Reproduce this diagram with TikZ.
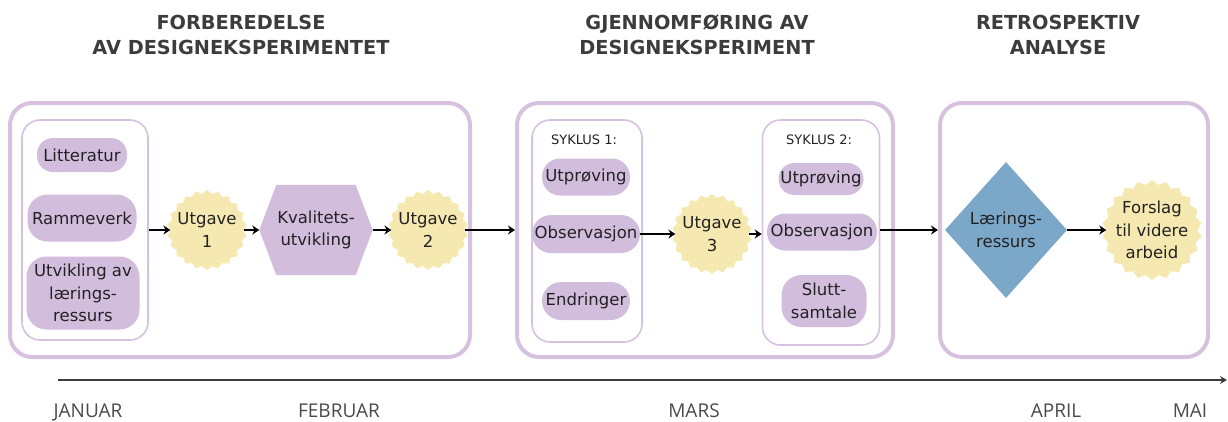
\documentclass[tikz,border=0pt]{standalone}
\usepackage{fontspec}
\setmainfont{DejaVu Sans}
\newfontfamily\monthfont{Open Sans}
\usetikzlibrary{shapes.geometric,shapes.misc,arrows.meta,backgrounds}
\definecolor{lav}{HTML}{D3BDDD}
\definecolor{lavline}{HTML}{D6C2DF}
\definecolor{sun}{HTML}{F6E8B1}
\definecolor{steel}{HTML}{7BA7C9}
\definecolor{txt}{HTML}{222222}
\definecolor{headc}{HTML}{3C3C3C}
\definecolor{monthc}{HTML}{4A4A4A}
\begin{document}
\begin{tikzpicture}[x=1pt,y=-1pt,
  outerbox/.style={draw=lavline, line width=4pt, rounded corners=22pt, inner sep=0pt, minimum height=254pt},
  innerbox/.style={draw=lavline, line width=1.6pt, rounded corners=18pt, inner sep=0pt},
  pill/.style={fill=lav, rounded corners=16pt, inner sep=0pt, align=center, text=txt, font=\fontsize{16.5}{22.5}\selectfont},
  burst/.style={star, star points=22, star point ratio=1.1, fill=sun, draw=none, inner sep=0pt, minimum size=#1},
  burstlabel/.style={font=\fontsize{16.5}{22.5}\selectfont, align=center, text=txt},
  arr/.style={-{Stealth[length=7pt,width=9pt]}, line width=2.5pt, black},
  heading/.style={font=\bfseries\fontsize{19.3}{25}\selectfont, align=center, text=headc},
  month/.style={font=\monthfont\fontsize{19}{21}\selectfont, text=monthc, inner sep=0pt, anchor=base},
  syk/.style={font=\fontsize{13}{15}\selectfont, text=txt},
]
\useasboundingbox (0,0) rectangle (1228,421);

% headings
\node[heading] (h1) at (241,35) {FORBEREDELSE\\AV DESIGNEKSPERIMENTET};
\node[heading] (h2) at (697,35) {GJENNOMFØRING AV\\DESIGNEKSPERIMENT};
\node[heading] (h3) at (1058,35) {RETROSPEKTIV\\ANALYSE};

% outer boxes
\node[outerbox, minimum width=460pt] (box1) at (240,230) {};
\node[outerbox, minimum width=376pt] (box2) at (705,230) {};
\node[outerbox, minimum width=268pt] (box3) at (1074,230) {};

% phase 1
\node[innerbox, minimum width=126pt, minimum height=220pt] (ib1) at (85,230) {};
\node[pill, minimum width=90pt, minimum height=34pt] (lit) at (82,155) {Litteratur};
\node[pill, minimum width=109pt, minimum height=47pt, rounded corners=20pt] (ram) at (82,218) {Rammeverk};
\node[pill, minimum width=113pt, minimum height=73pt, rounded corners=20pt] (utv) at (83,293) {Utvikling av\\lærings-\\ressurs};

\node[burst=80pt, label={[burstlabel]center:Utgave\\1}] (u1) at (207,230) {};
\node[minimum width=113pt, minimum height=90pt, inner sep=0pt, align=center, text=txt, font=\fontsize{16.5}{22.5}\selectfont] (kv) at (316,230) {Kvalitets-\\utvikling};
\begin{scope}[on background layer]
\fill[lav] (kv.west) -- ([xshift=17pt]kv.north west) -- ([xshift=-17pt]kv.north east) -- (kv.east) -- ([xshift=-17pt]kv.south east) -- ([xshift=17pt]kv.south west) -- cycle;
\end{scope}
\node[burst=80pt, label={[burstlabel]center:Utgave\\2}] (u2) at (428,230) {};

% phase 2
\node[innerbox, minimum width=110pt, minimum height=222pt] (s1) at (587,231) {};
\node[syk] (s1t) at (584,140) {SYKLUS 1:};
\node[pill, minimum width=88pt, minimum height=37pt, rounded corners=18pt] (up1) at (586,177) {Utprøving};
\node[pill, minimum width=108pt, minimum height=38pt, rounded corners=19pt] (ob1) at (586,234) {Observasjon};
\node[pill, minimum width=88pt, minimum height=38pt, rounded corners=19pt] (en1) at (586,301) {Endringer};

\node[burst=80pt, label={[burstlabel]center:Utgave\\3}] (u3) at (712,234) {};

\node[innerbox, minimum width=117pt, minimum height=225pt] (s2) at (821,232.5) {};
\node[syk] (s2t) at (819,140) {SYKLUS 2:};
\node[pill, minimum width=85pt, minimum height=32pt] (up2) at (821,179) {Utprøving};
\node[pill, minimum width=110pt, minimum height=37pt, rounded corners=18pt] (ob2) at (822,232) {Observasjon};
\node[pill, minimum width=85pt, minimum height=52pt, rounded corners=20pt] (sl2) at (824,301) {Slutt-\\samtale};

% phase 3
\node[diamond, fill=steel, minimum width=122pt, minimum height=136pt, inner sep=0pt, align=center, text=txt, font=\fontsize{16.5}{22.5}\selectfont] (d) at (1006,230) {Lærings-\\ressurs};
\node[burst=100pt, label={[burstlabel]center:Forslag\\til videre\\arbeid}] (f) at (1152,230) {};

% arrows
\draw[arr] (ib1.east) -- (u1.west);
\draw[arr] (u1.east) -- (kv.west);
\draw[arr] (kv.east) -- (u2.west);
\draw[arr] (u2.east) -- (box2.west);
\draw[arr] (ob1.east) -- (u3.west |- ob1.east);
\draw[arr] (u3.east |- ob1.east) -- (s2.west |- ob1.east);
\draw[arr] (s2.east |- box3.west) -- (box3.west);
\draw[arr] (d.east) -- (f.west);

% timeline
\coordinate (t0) at (58,380);
\coordinate (t1) at (1227,380);
\draw[-{Stealth[length=7pt,width=8pt]}, line width=2pt, headc] (t0) -- (t1);
\node[month] (m1) at (88,417) {JANUAR};
\node[month] (m2) at (339,417) {FEBRUAR};
\node[month] (m3) at (694,417) {MARS};
\node[month] (m4) at (1056,417) {APRIL};
\node[month] (m5) at (1190,417) {MAI};
\end{tikzpicture}
\end{document}
